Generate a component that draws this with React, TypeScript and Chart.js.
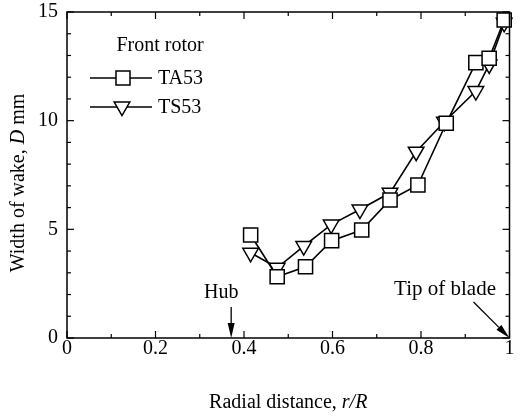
import React, { useEffect, useRef } from 'react';
import { Chart, registerables } from 'chart.js';

Chart.register(...registerables);

// ---- data ----
const taX = [0.415, 0.475, 0.539, 0.598, 0.666, 0.73, 0.793, 0.857, 0.924, 0.954, 0.988];
const taY = [4.74, 2.82, 3.28, 4.48, 4.97, 6.35, 7.04, 9.88, 12.67, 12.87, 14.63];
const tsX = [0.415, 0.475, 0.535, 0.597, 0.662, 0.73, 0.789, 0.853, 0.924, 0.954, 0.988];
const tsY = [3.92, 3.23, 4.23, 5.22, 5.91, 6.68, 8.57, 9.95, 11.36, 12.59, 14.5];
const seriesNames = ['TA53', 'TS53'];
const legendTitle = 'Front rotor';
const xTickValues = [0, 0.2, 0.4, 0.6, 0.8, 1];
const xTickLabels = ['0', '0.2', '0.4', '0.6', '0.8', '1'];
const yTickValues = [0, 5, 10, 15];
const yTickLabels = ['0', '5', '10', '15'];
const hubX = 0.371;
const tipX = 1;

const SERIF = '"Liberation Serif", "Times New Roman", serif';
const FS = 20;

function arrow(ctx: CanvasRenderingContext2D, x1: number, y1: number, x2: number, y2: number, headLen: number, headW: number) {
  const ang = Math.atan2(y2 - y1, x2 - x1);
  const bx = x2 - Math.cos(ang) * headLen;
  const by = y2 - Math.sin(ang) * headLen;
  ctx.beginPath();
  ctx.moveTo(x1, y1);
  ctx.lineTo(bx, by);
  ctx.stroke();
  const nx = -Math.sin(ang) * headW / 2;
  const ny = Math.cos(ang) * headW / 2;
  ctx.beginPath();
  ctx.moveTo(x2, y2);
  ctx.lineTo(bx + nx, by + ny);
  ctx.lineTo(bx - nx, by - ny);
  ctx.closePath();
  ctx.fill();
}

const decorPlugin = {
  id: 'decor',
  afterDraw(chart: any) {
    const { ctx, chartArea: a, scales } = chart;
    const x = scales.x;
    const y = scales.y;
    ctx.save();
    ctx.strokeStyle = '#000';
    ctx.fillStyle = '#000';
    ctx.lineWidth = 1.5;
    ctx.strokeRect(a.left, a.top, a.right - a.left, a.bottom - a.top);

    // inward ticks
    ctx.lineWidth = 1.2;
    const seg = (x1: number, y1: number, x2: number, y2: number) => {
      ctx.beginPath();
      ctx.moveTo(x1, y1);
      ctx.lineTo(x2, y2);
      ctx.stroke();
    };
    for (let i = 0; i <= 10; i++) {
      const px = x.getPixelForValue(i / 10);
      const len = i % 2 === 0 ? 7 : 4;
      seg(px, a.bottom, px, a.bottom - len);
      seg(px, a.top, px, a.top + len);
    }
    for (let i = 0; i <= 15; i++) {
      const py = y.getPixelForValue(i);
      const len = i % 5 === 0 ? 7 : 4;
      seg(a.left, py, a.left + len, py);
      seg(a.right, py, a.right - len, py);
    }

    // legend
    ctx.font = `${FS}px ${SERIF}`;
    ctx.textBaseline = 'middle';
    ctx.textAlign = 'center';
    ctx.fillText(legendTitle, 160, 46);
    ctx.textAlign = 'left';
    ctx.lineWidth = 1.5;
    // TA53
    seg(90, 78, 152, 78);
    ctx.fillStyle = '#fff';
    ctx.fillRect(116, 71, 14, 14);
    ctx.strokeRect(116, 71, 14, 14);
    ctx.fillStyle = '#000';
    ctx.fillText(seriesNames[0], 158, 79);
    // TS53
    seg(90, 107, 152, 107);
    ctx.beginPath();
    const r = 9;
    const cx = 122, cy = 106.5;
    ctx.moveTo(cx, cy + r);
    ctx.lineTo(cx - r * Math.sin(Math.PI / 3), cy - r / 2);
    ctx.lineTo(cx + r * Math.sin(Math.PI / 3), cy - r / 2);
    ctx.closePath();
    ctx.fillStyle = '#fff';
    ctx.fill();
    ctx.stroke();
    ctx.fillStyle = '#000';
    ctx.fillText(seriesNames[1], 158, 108);

    // annotations
    ctx.textAlign = 'center';
    const hx = x.getPixelForValue(hubX);
    ctx.fillText('Hub', hx - 10, 293);
    ctx.lineWidth = 1.3;
    arrow(ctx, hx, 307, hx, a.bottom, 15, 7);
    const tx = x.getPixelForValue(tipX);
    ctx.font = `${FS + 1}px ${SERIF}`;
    ctx.fillText('Tip of blade', 445, 289);
    arrow(ctx, tx - 36, a.bottom - 36, tx, a.bottom, 15, 7);

    // x title
    const t1 = 'Radial distance, ';
    const t2 = 'r/R';
    ctx.font = `${FS}px ${SERIF}`;
    const w1 = ctx.measureText(t1).width;
    ctx.font = `italic ${FS}px ${SERIF}`;
    const w2 = ctx.measureText(t2).width;
    const startX = (a.left + a.right) / 2 - (w1 + w2) / 2;
    ctx.textAlign = 'left';
    ctx.font = `${FS}px ${SERIF}`;
    ctx.fillText(t1, startX, 403);
    ctx.font = `italic ${FS}px ${SERIF}`;
    ctx.fillText(t2, startX + w1, 403);

    // y title
    const parts: [string, boolean][] = [['Width of wake, ', false], ['D', true], [' mm', false]];
    let total = 0;
    const widths: number[] = [];
    for (const [s, it] of parts) {
      ctx.font = `${it ? 'italic ' : ''}${FS}px ${SERIF}`;
      const w = ctx.measureText(s).width;
      widths.push(w);
      total += w;
    }
    ctx.translate(19, 183);
    ctx.rotate(-Math.PI / 2);
    let pos = -total / 2;
    parts.forEach(([s, it], i) => {
      ctx.font = `${it ? 'italic ' : ''}${FS}px ${SERIF}`;
      ctx.fillText(s, pos, 0);
      pos += widths[i];
    });
    ctx.restore();
  },
};

export default function App() {
  const ref = useRef<HTMLCanvasElement | null>(null);
  useEffect(() => {
    document.body.style.margin = '0';
    if (!ref.current) return;
    const chart = new Chart(ref.current, {
      type: 'scatter',
      data: {
        datasets: [
          {
            label: seriesNames[0],
            data: taX.map((v, i) => ({ x: v, y: taY[i] })),
            showLine: true,
            borderColor: '#000',
            borderWidth: 1.6,
            pointStyle: 'rect',
            pointRadius: 10,
            pointBackgroundColor: '#fff',
            pointBorderColor: '#000',
            pointBorderWidth: 1.5,
            clip: false,
          } as any,
          {
            label: seriesNames[1],
            data: tsX.map((v, i) => ({ x: v, y: tsY[i] })),
            showLine: true,
            borderColor: '#000',
            borderWidth: 1.6,
            pointStyle: 'triangle',
            pointRotation: 180,
            pointRadius: 9,
            pointBackgroundColor: '#fff',
            pointBorderColor: '#000',
            pointBorderWidth: 1.5,
            clip: false,
          } as any,
        ],
      },
      options: {
        responsive: false,
        animation: false,
        devicePixelRatio: 1,
        layout: { padding: { left: 0, right: 9, top: 12, bottom: 0 } },
        plugins: { legend: { display: false }, tooltip: { enabled: false } },
        scales: {
          x: {
            type: 'linear',
            min: 0,
            max: 1,
            afterFit: (s: any) => { s.height = 78; s.paddingLeft = 0; s.paddingRight = 0; },
            afterBuildTicks: (s: any) => { s.ticks = xTickValues.map((v) => ({ value: v })); },
            grid: { display: false, drawTicks: false },
            border: { display: false },
            ticks: {
              padding: -1,
              color: '#000',
              font: { family: SERIF, size: FS },
              maxRotation: 0,
              callback: (v: any) => {
                const i = xTickValues.findIndex((t) => Math.abs(t - Number(v)) < 1e-6);
                return i >= 0 ? xTickLabels[i] : '';
              },
            },
          },
          y: {
            type: 'linear',
            min: 0,
            max: 15,
            afterFit: (s: any) => { s.width = 67; s.paddingTop = 0; s.paddingBottom = 0; },
            afterBuildTicks: (s: any) => { s.ticks = yTickValues.map((v) => ({ value: v })); },
            grid: { display: false, drawTicks: false },
            border: { display: false },
            ticks: {
              padding: 9,
              color: '#000',
              font: { family: SERIF, size: FS },
              callback: (v: any) => {
                const i = yTickValues.findIndex((t) => Math.abs(t - Number(v)) < 1e-6);
                return i >= 0 ? yTickLabels[i] : '';
              },
            },
          },
        },
      },
      plugins: [decorPlugin],
    } as any);
    return () => chart.destroy();
  }, []);
  return (
    <div style={{ width: 521, height: 416, background: '#fff' }}>
      <canvas ref={ref} width={521} height={416} style={{ display: 'block' }} />
    </div>
  );
}
